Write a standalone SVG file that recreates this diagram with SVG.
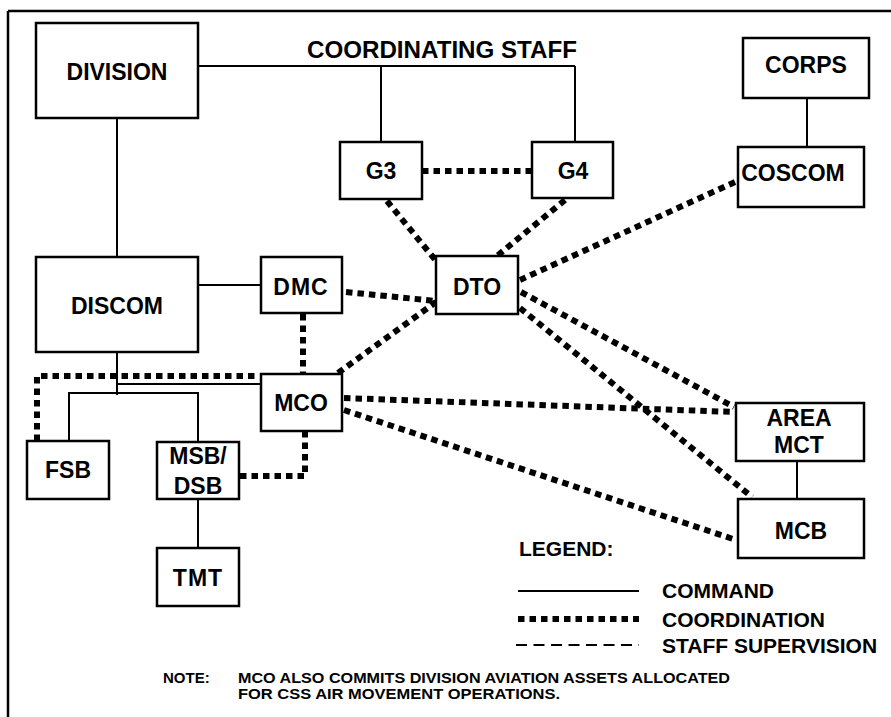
<svg xmlns="http://www.w3.org/2000/svg" width="891" height="717" viewBox="0 0 891 717">
<defs>
<style>
.box{fill:#fff;stroke:#000;stroke-width:2.5}
.lbl{font-family:"Liberation Sans",Arial,sans-serif;font-weight:bold;font-size:23px;text-anchor:middle;fill:#000}
.cmd{fill:none;stroke:#000;stroke-width:2}
.crd{fill:none;stroke:#000;stroke-width:6;stroke-dasharray:6.5 5}
.sup{fill:none;stroke:#000;stroke-width:2;stroke-dasharray:11 6.5}
.leg{font-family:"Liberation Sans",Arial,sans-serif;font-weight:bold;font-size:21px;fill:#000}
.note{font-family:"Liberation Sans",Arial,sans-serif;font-weight:bold;font-size:15px;fill:#000}
</style>
</defs>
<rect width="891" height="717" fill="#fff"/>
<g id="frame">
<path d="M8 11H891M8 11V717" fill="none" stroke="#000" stroke-width="2.5"/>
</g>
<g id="connectors">
<path class="cmd" d="M198 66H575M381 66V142M575 66V142"/>
<path class="cmd" d="M807 98V147"/>
<path class="cmd" d="M117 118V257"/>
<path class="cmd" d="M198 285H261"/>
<path class="cmd" d="M117 352V395M117 384H261"/>
<path class="cmd" d="M69 441V393H198V442"/>
<path class="cmd" d="M198 499V548"/>
<path class="cmd" d="M797 461V499"/>
<path class="crd" d="M422 171H532"/>
<path class="crd" d="M387 201L437 262"/>
<path class="crd" d="M565 200L497 256"/>
<path class="crd" d="M735 182L520 280"/>
<path class="crd" d="M346 292L436 301"/>
<path class="crd" d="M338 373L436 302"/>
<path class="crd" d="M303 314V374"/>
<path class="crd" d="M37 441V376H258"/>
<path class="crd" d="M240 476H305V431"/>
<path class="crd" d="M344 398L734 412"/>
<path class="crd" d="M344 410L736 540"/>
<path class="crd" d="M521 292L734 407"/>
<path class="crd" d="M520 308L752 497"/>
</g>
<g id="division"><rect class="box" x="36" y="23" width="162" height="95"/><text class="lbl" x="117" y="80">DIVISION</text></g>
<g id="coordinating-staff"><text class="lbl" x="442" y="58" textLength="270" lengthAdjust="spacingAndGlyphs">COORDINATING STAFF</text></g>
<g id="corps"><rect class="box" x="743" y="38" width="126" height="60"/><text class="lbl" x="806" y="73">CORPS</text></g>
<g id="g3"><rect class="box" x="340" y="142" width="82" height="57"/><text class="lbl" x="381" y="179">G3</text></g>
<g id="g4"><rect class="box" x="532" y="142" width="81" height="56"/><text class="lbl" x="573" y="179">G4</text></g>
<g id="coscom"><rect class="box" x="738" y="147" width="126" height="60"/><text class="lbl" x="793" y="181">COSCOM</text></g>
<g id="discom"><rect class="box" x="36" y="257" width="162" height="95"/><text class="lbl" x="117" y="314">DISCOM</text></g>
<g id="dmc"><rect class="box" x="261" y="257" width="81" height="56"/><text class="lbl" x="301" y="295" letter-spacing="1">DMC</text></g>
<g id="dto"><rect class="box" x="436" y="256" width="82" height="58"/><text class="lbl" x="477" y="295">DTO</text></g>
<g id="mco"><rect class="box" x="261" y="374" width="81" height="57"/><text class="lbl" x="301" y="411">MCO</text></g>
<g id="fsb"><rect class="box" x="27" y="441" width="82" height="58"/><text class="lbl" x="68" y="478">FSB</text></g>
<g id="msb-dsb"><rect class="box" x="157" y="442" width="82" height="57"/><text class="lbl" x="198" y="464">MSB/</text><text class="lbl" x="198" y="494">DSB</text></g>
<g id="tmt"><rect class="box" x="157" y="548" width="82" height="58"/><text class="lbl" x="198" y="586" letter-spacing="1">TMT</text></g>
<g id="area-mct"><rect class="box" x="736" y="403" width="128" height="58"/><text class="lbl" x="799" y="426">AREA</text><text class="lbl" x="799" y="453">MCT</text></g>
<g id="mcb"><rect class="box" x="738" y="499" width="126" height="59"/><text class="lbl" x="801" y="539">MCB</text></g>
<g id="legend">
<text class="leg" x="519" y="556">LEGEND:</text>
<path class="cmd" d="M518 591H639"/>
<path class="crd" d="M518 619H639"/>
<path class="sup" d="M516 645H639"/>
<text class="leg" x="662" y="598">COMMAND</text>
<text class="leg" x="662" y="627">COORDINATION</text>
<text class="leg" x="662" y="653">STAFF SUPERVISION</text>
</g>
<g id="note">
<text class="note" x="163" y="683">NOTE:</text>
<text class="note" x="238" y="683" textLength="492" lengthAdjust="spacingAndGlyphs">MCO ALSO COMMITS DIVISION AVIATION ASSETS ALLOCATED</text>
<text class="note" x="238" y="699" textLength="322" lengthAdjust="spacingAndGlyphs">FOR CSS AIR MOVEMENT OPERATIONS.</text>
</g>
</svg>
